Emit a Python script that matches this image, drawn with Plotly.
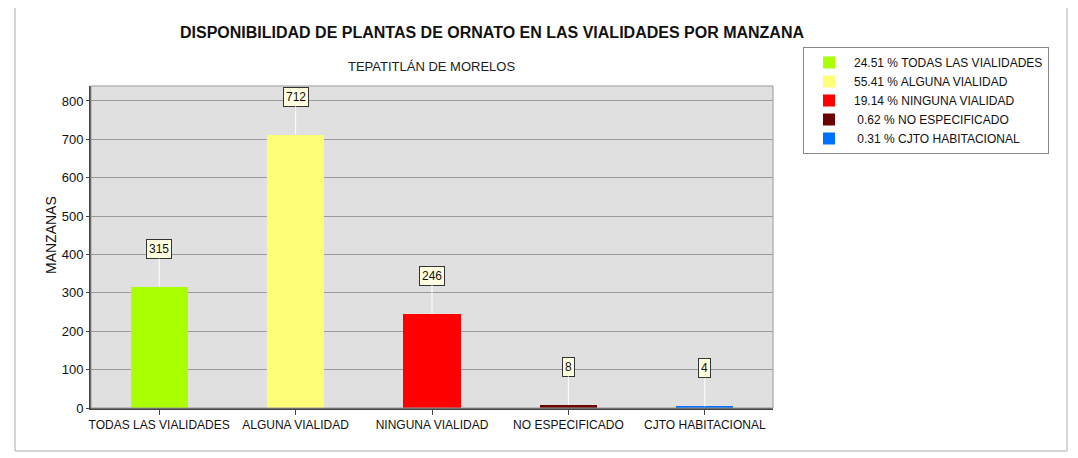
import plotly.graph_objects as go

categories = ["TODAS LAS VIALIDADES", "ALGUNA VIALIDAD", "NINGUNA VIALIDAD", "NO ESPECIFICADO", "CJTO HABITACIONAL"]
values = [315, 712, 246, 8, 4]
percents = ["24.51", "55.41", "19.14", "0.62", "0.31"]
colors = ["#AAFF00", "#FFFF77", "#FF0000", "#6B0000", "#0070FF"]
y_ticks = [0, 100, 200, 300, 400, 500, 600, 700, 800]

FONT = "Liberation Sans, Arial, sans-serif"

fig = go.Figure()
for cat, val, pct, col in zip(categories, values, percents, colors):
    fig.add_trace(go.Bar(
        x=[cat], y=[val], name=f"{pct:>5} % {cat}",
        marker=dict(color=col, line=dict(width=0)),
        width=0.42, hoverinfo="x+y",
    ))
    fig.add_annotation(
        x=cat, y=val, text=str(val), showarrow=True, arrowhead=0,
        arrowcolor="white", arrowwidth=1, ax=0, ay=-38,
        bgcolor="#FFFFE0", bordercolor="#333333", borderwidth=1, borderpad=2,
        font=dict(family=FONT, size=12, color="#111111"),
    )

OFF = 8  # page body margin
L, R, T, B = 91 - OFF, 773 - OFF, 86 - OFF, 408 - OFF
W, H = 1078 - OFF, 458 - OFF
pw, ph = R - L, B - T

def px(x):
    return (x - OFF - L) / pw

def py(y):
    return (B - (y - OFF)) / ph

# outer border
fig.add_shape(type="rect", xref="paper", yref="paper",
              x0=px(15), x1=px(1067), y0=py(451), y1=py(1),
              line=dict(color="#AAAAAA", width=1), fillcolor="rgba(0,0,0,0)", layer="below")
# plot frame
fig.add_shape(type="rect", xref="paper", yref="paper",
              x0=0, x1=1, y0=0, y1=1,
              line=dict(color="#999999", width=1), fillcolor="rgba(0,0,0,0)", layer="above")

fig.add_annotation(xref="paper", yref="paper", x=px(492), y=py(33),
                   text="<b>DISPONIBILIDAD DE PLANTAS DE ORNATO EN LAS VIALIDADES POR MANZANA</b>",
                   showarrow=False, font=dict(family=FONT, size=16, color="#111111"),
                   xanchor="center", yanchor="middle")
fig.add_annotation(xref="paper", yref="paper", x=px(431), y=py(66),
                   text="TEPATITLÁN DE MORELOS",
                   showarrow=False, font=dict(family=FONT, size=13, color="#222222"),
                   xanchor="center", yanchor="middle")
fig.add_annotation(xref="paper", yref="paper", x=px(51), y=py(235),
                   text="MANZANAS", textangle=-90,
                   showarrow=False, font=dict(family=FONT, size=14, color="#111111"),
                   xanchor="center", yanchor="middle")

fig.update_layout(
    width=W, height=H,
    margin=dict(l=L, r=W - R, t=T, b=H - B, autoexpand=False),
    paper_bgcolor="white", plot_bgcolor="#E0E0E0",
    barmode="overlay", bargap=0,
    showlegend=True,
    legend=dict(x=px(803), y=py(47), xanchor="left", yanchor="top",
                bordercolor="#888888", borderwidth=1, bgcolor="white",
                font=dict(family=FONT, size=12, color="#111111"),
                itemwidth=40, tracegroupgap=0),
    font=dict(family=FONT, size=12, color="#111111"),
)
fig.update_xaxes(
    showline=True, linecolor="#444444", linewidth=2,
    ticks="outside", ticklen=5, tickcolor="#444444",
    tickfont=dict(family=FONT, size=12, color="#111111"),
    showgrid=False, fixedrange=True,
)
fig.update_yaxes(
    range=[0, 839], tickvals=y_ticks,
    showline=True, linecolor="#444444", linewidth=2,
    ticks="outside", ticklen=3, tickcolor="#444444",
    tickfont=dict(family=FONT, size=13, color="#111111"),
    showgrid=True, gridcolor="#999999", gridwidth=1, zeroline=False,
)

fig.write_html("out.html")
